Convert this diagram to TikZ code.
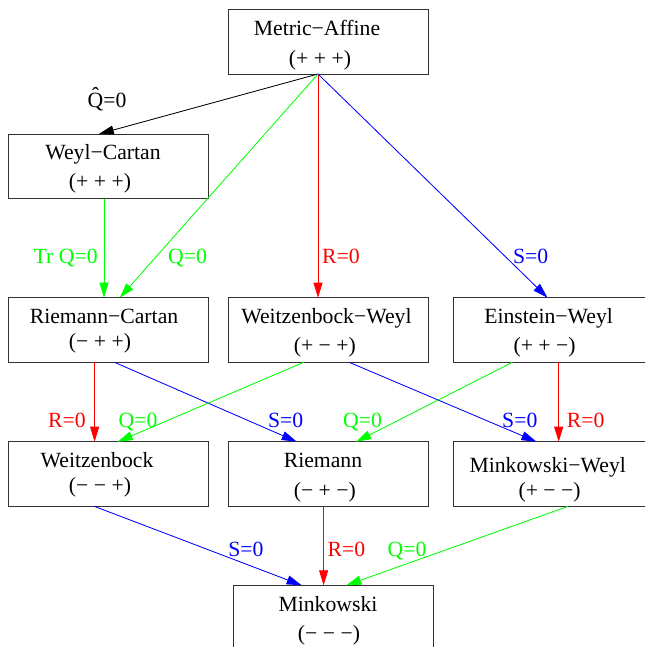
\documentclass[tikz,border=0pt]{standalone}
\usepackage{fontspec}
\setmainfont{Liberation Serif}
\usetikzlibrary{arrows.meta,calc}
\definecolor{gg}{RGB}{0,255,0}
\definecolor{rr}{RGB}{255,0,0}
\definecolor{bb}{RGB}{0,0,255}
\begin{document}
\begin{tikzpicture}[x=1pt,y=-1pt,
  box/.style={draw=black!80, line width=0.9pt, minimum width=200pt, minimum height=64.6pt, inner sep=0pt, outer sep=0pt},
  txt/.style={anchor=base, inner sep=0pt, font=\fontsize{21.7}{26}\selectfont},
  conn/.style={line width=0.8pt, -{Triangle[length=15pt,width=9pt]}},
  gline/.style={conn, draw=gg, fill=gg},
  rline/.style={conn, draw=rr, fill=rr},
  bline/.style={conn, draw=bb, fill=bb},
  kline/.style={conn, draw=black, fill=black},
  glab/.style={txt, text=gg},
  rlab/.style={txt, text=rr},
  blab/.style={txt, text=bb}]
\useasboundingbox (0,0) rectangle (645,647);
\clip (0,0) rectangle (645,647);
% boxes
\node[box] (ma) at (328.5,41.7) {};
\node[box] (wc) at (108.8,166.3) {};
\node[box] (rc) at (108.8,330) {};
\node[box] (ww) at (328.5,330) {};
\node[box] (ew) at (553.3,330) {};
\node[box] (wb) at (108.8,474) {};
\node[box] (ri) at (328.5,474) {};
\node[box] (mw) at (553.3,474) {};
\node[box] (mk) at (333.3,617.6) {};
% box texts
\node[txt] (ma1) at (317,35.3) {Metric−Affine};
\node[txt] (ma2) at (320,65.4) {(+ + +)};
\node[txt] (wc1) at (103,159.7) {Weyl−Cartan};
\node[txt] (wc2) at (100,188.1) {(+ + +)};
\node[txt] (rc1) at (104,323.7) {Riemann−Cartan};
\node[txt] (rc2) at (100,348.1) {(− + +)};
\node[txt] (ww1) at (326.4,323.7) {Weitzenbock−Weyl};
\node[txt] (ww2) at (324.8,352.7) {(+ − +)};
\node[txt] (ew1) at (548.6,323.7) {Einstein−Weyl};
\node[txt] (ew2) at (544.6,352.7) {(+ + −)};
\node[txt] (wb1) at (97,467.7) {Weitzenbock};
\node[txt] (wb2) at (100,492.1) {(− − +)};
\node[txt] (ri1) at (323,467.7) {Riemann};
\node[txt] (ri2) at (324.8,497.1) {(− + −)};
\node[txt] (mw1) at (547.7,472) {Minkowski−Weyl};
\node[txt] (mw2) at (549.6,497.1) {(+ − −)};
\node[txt] (mk1) at (328,611) {Minkowski};
\node[txt] (mk2) at (329,640.4) {(− − −)};
% connectors
\draw[kline] ([xshift=-10.5pt]ma.south) -- ([xshift=-10pt]wc.north);
\draw[gline] ([xshift=-10.5pt]ma.south) -- ([xshift=11pt]rc.north);
\draw[rline] ([xshift=-10.5pt]ma.south) -- ([xshift=-10.5pt]ww.north);
\draw[bline] ([xshift=-10.5pt]ma.south) -- ([xshift=-5.8pt]ew.north);
\draw[gline] ([xshift=-4.8pt]wc.south) -- ([xshift=-4.8pt]rc.north);
\draw[rline] ([xshift=-14.2pt]rc.south) -- ([xshift=-14.2pt]wb.north);
\draw[bline] ([xshift=5.7pt]rc.south) -- ([xshift=-31.8pt]ri.north);
\draw[gline] ([xshift=-24.8pt]ww.south) -- ([xshift=9pt]wb.north);
\draw[bline] ([xshift=20.7pt]ww.south) -- ([xshift=-16.9pt]mw.north);
\draw[gline] ([xshift=-40.9pt]ew.south) -- ([xshift=27.7pt]ri.north);
\draw[rline] ([xshift=5.4pt]ew.south) -- ([xshift=5.4pt]mw.north);
\draw[bline] ([xshift=-14.6pt]wb.south) -- ([xshift=-31.6pt]mk.north);
\draw[rline] ([xshift=-4.9pt]ri.south) -- ([xshift=-9.7pt]mk.north);
\draw[gline] ([xshift=14.9pt]mw.south) -- ([xshift=13pt]mk.north);
% edge labels
\node[txt] (lq) at (107,107.3) {\^{Q}=0};
\node[glab] (l1) at (65.7,263.7) {Tr Q=0};
\node[glab] (l2) at (187.6,263.7) {Q=0};
\node[rlab] (l3) at (341,263.7) {R=0};
\node[blab] (l4) at (530.6,263.7) {S=0};
\node[rlab] (l5) at (67,427) {R=0};
\node[glab] (l6) at (138,427) {Q=0};
\node[blab] (l7) at (285.7,427) {S=0};
\node[glab] (l8) at (362.6,427) {Q=0};
\node[blab] (l9) at (519.8,427) {S=0};
\node[rlab] (l10) at (585.7,427) {R=0};
\node[blab] (l11) at (245.9,556) {S=0};
\node[rlab] (l12) at (346.5,556) {R=0};
\node[glab] (l13) at (407,556) {Q=0};
\end{tikzpicture}
\end{document}
